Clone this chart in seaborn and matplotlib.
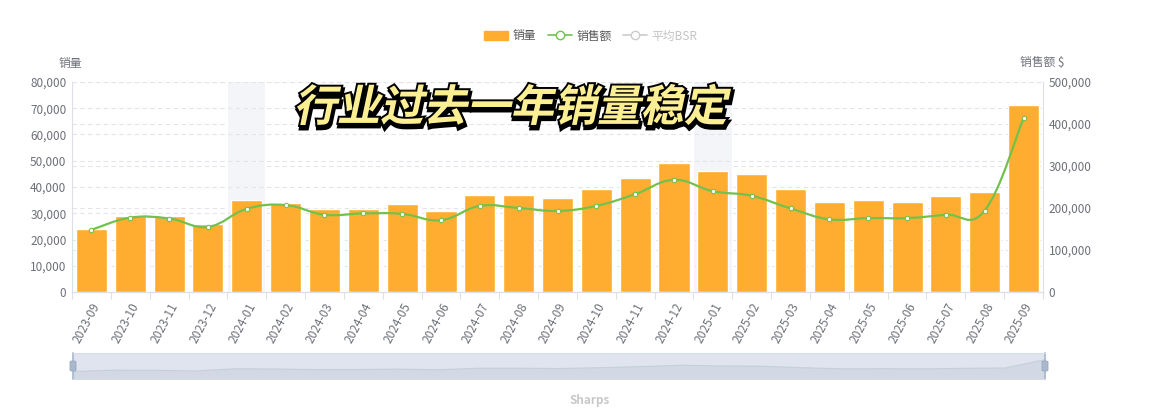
import matplotlib
matplotlib.use("Agg")
import matplotlib.pyplot as plt
import matplotlib.patches as mpatches
import matplotlib.patheffects as pe
import numpy as np
import pandas as pd
import seaborn as sns
from matplotlib.lines import Line2D
from matplotlib.path import Path
from matplotlib.textpath import TextPath
from matplotlib.font_manager import FontProperties
from matplotlib.transforms import Affine2D, IdentityTransform
from matplotlib.ticker import FuncFormatter, MultipleLocator

# data
months = ["2023-09", "2023-10", "2023-11", "2023-12", "2024-01", "2024-02", "2024-03",
          "2024-04", "2024-05", "2024-06", "2024-07", "2024-08", "2024-09", "2024-10",
          "2024-11", "2024-12", "2025-01", "2025-02", "2025-03", "2025-04", "2025-05",
          "2025-06", "2025-07", "2025-08", "2025-09"]
qty = [24000, 29100, 28800, 25800, 35000, 33800, 31500, 31700, 33400, 30900, 37000,
       37000, 35800, 39200, 43400, 49100, 46100, 45000, 39100, 34300, 35200, 34400,
       36600, 38000, 71400]
sales = [148000, 177000, 175000, 155000, 198000, 207000, 184000, 187000, 186000,
         171000, 205000, 200000, 193000, 205000, 233000, 267000, 240000, 229000,
         199000, 173000, 176000, 176000, 184000, 194000, 414000]
shaded_months = ["2024-01", "2025-01"]
title = "行业过去一年销量稳定"
legend_labels = ["销量", "销售额", "平均BSR"]

BAR = "#ffad30"
GREEN = "#72c14d"
TICK = "#6e7079"
GRID = "#e3e5ea"

sns.set_theme(style="white")
plt.rcParams["font.family"] = ["Noto Sans CJK SC", "DejaVu Sans"]

df = pd.DataFrame({"month": months, "qty": qty, "sales": sales})

fig = plt.figure(figsize=(11.76, 4.15), dpi=100)
rect = [72 / 1176, 1 - 292 / 415, (1043 - 72) / 1176, (292 - 82) / 415]
ax = fig.add_axes(rect)
ax2 = ax.twinx()
# right axis sits behind so its grid stays under the bars
ax2.set_zorder(ax.get_zorder() - 1)
ax.patch.set_visible(False)

# highlighted bands behind the bars
for m in shaded_months:
    i = months.index(m)
    ax.axvspan(i - 0.48, i + 0.48, color="#f3f5f9", zorder=0, lw=0)

sns.barplot(data=df, x="month", y="qty", color=BAR, width=0.8, saturation=1,
            ax=ax, zorder=2)
ax.set_ylim(0, 80000)
ax.set_xlim(-0.5, len(months) - 0.5)
ax.yaxis.set_major_locator(MultipleLocator(10000))
ax.yaxis.set_major_formatter(FuncFormatter(lambda v, p: f"{int(v):,}"))
ax.set_xlabel("")
ax.set_ylabel("")
ax.grid(axis="y", color=GRID, ls=(0, (4, 3)), lw=0.8, zorder=0)
ax.set_axisbelow(True)

ax2.set_ylim(0, 500000)
ax2.yaxis.set_major_locator(MultipleLocator(100000))
ax2.yaxis.set_major_formatter(FuncFormatter(lambda v, p: f"{int(v):,}"))
ax2.grid(axis="y", color=GRID, ls=(0, (4, 3)), lw=0.8)


# smooth line like the echarts "smooth" option
def smooth_path(xs, ys, s=0.2):
    n = len(xs)
    verts = [(xs[0], ys[0])]
    codes = [Path.MOVETO]
    for i in range(n - 1):
        a = i - 1 if i > 0 else i
        b = i + 2 if i + 2 < n else i + 1
        c1 = (xs[i] + (xs[i + 1] - xs[a]) * s, ys[i] + (ys[i + 1] - ys[a]) * s)
        c2 = (xs[i + 1] - (xs[b] - xs[i]) * s, ys[i + 1] - (ys[b] - ys[i]) * s)
        verts += [c1, c2, (xs[i + 1], ys[i + 1])]
        codes += [Path.CURVE4] * 3
    return Path(verts, codes)


xs = np.arange(len(months), dtype=float)
# sales line drawn on the front axes but in right-axis data units
ax.add_patch(mpatches.PathPatch(smooth_path(xs, np.array(sales, float)), fill=False,
                                edgecolor=GREEN, lw=1.6, zorder=3, transform=ax2.transData))
ax.scatter(xs, sales, s=10, facecolor="white", edgecolor=GREEN, lw=0.8, zorder=4,
           transform=ax2.transData)

for a in (ax, ax2):
    a.spines["top"].set_visible(False)
    for side in ("left", "right", "bottom"):
        a.spines[side].set_color("#dcdfe6")
        a.spines[side].set_linewidth(0.8)
    a.tick_params(axis="y", colors=TICK, labelsize=8.5, length=0, pad=4)
ax2.spines["left"].set_visible(False)
ax.spines["right"].set_visible(False)

ax.set_xticks(xs)
ax.set_xticklabels(months, rotation=62, ha="right", rotation_mode="anchor")
ax.set_xticks(np.arange(-0.5, len(months), 1), minor=True)
ax.tick_params(axis="x", which="major", length=0, labelsize=8.5, labelcolor=TICK, pad=6)
ax.tick_params(axis="x", which="minor", length=5, color="#dcdfe6", width=0.8, bottom=True)
ax2.tick_params(axis="x", which="both", bottom=False, top=False)

fig.text(70 / 1176, 1 - 63 / 415, "销量", color=TICK, fontsize=8.5, ha="center", va="center")
fig.text(1042 / 1176, 1 - 63 / 415, "销售额 $", color=TICK, fontsize=8.5, ha="center", va="center")

# legend
handles = [mpatches.Patch(color=BAR),
           Line2D([], [], color=GREEN, marker="o", mfc="white", mec=GREEN, ms=6, lw=1.2),
           Line2D([], [], color="#cccccc", marker="o", mfc="white", mec="#cccccc", ms=6, lw=1.2)]
leg = fig.legend(handles, legend_labels, loc="center", bbox_to_anchor=(591 / 1176, 1 - 36 / 415),
                 ncol=3, frameon=False, fontsize=8.5, handlelength=2.0, handleheight=0.9,
                 columnspacing=1.0, handletextpad=0.4)
for t, c in zip(leg.get_texts(), ["#555555", "#555555", "#c4c4c4"]):
    t.set_color(c)

# data zoom slider
sl = fig.add_axes([73 / 1176, 1 - 379 / 415, (1045 - 73) / 1176, 26 / 415])
sl.set_facecolor("#dfe4ee")
sl.fill_between(xs, qty, -8000, color="#d3d9e4", lw=0.8, edgecolor="#c6cedb")
sl.set_xlim(0, len(months) - 1)
sl.set_ylim(-8000, 96000)
sl.set_xticks([])
sl.set_yticks([])
for s in sl.spines.values():
    s.set_color("#d6dce8")
    s.set_linewidth(0.8)
for sd in ("left", "right"):
    sl.spines[sd].set_color("#a9b8cc")
    sl.spines[sd].set_linewidth(1.2)
for hx in (73, 1045):
    fig.add_artist(mpatches.FancyBboxPatch(((hx - 3) / 1176, 1 - 371 / 415), 6 / 1176, 10 / 415,
                                           boxstyle="round,pad=0,rounding_size=0.002",
                                           transform=fig.transFigure, facecolor="#a9b8cc",
                                           edgecolor="#97a8bf", lw=0.6))
fig.text(590 / 1176, 1 - 400 / 415, "Sharps", color="#c8c8c8", fontsize=8.5,
         fontweight="bold", ha="center", va="center")

# slanted headline with a black outline and shadow
fp = FontProperties(family="Noto Sans CJK SC", weight="bold")
tp = TextPath((0, 0), title, size=40, prop=fp)
tp = tp.transformed(Affine2D().skew_deg(12, 0))
ext = tp.get_extents()
scale = (731 - 297) / ext.width
tr = Affine2D().translate(-ext.x0, -ext.y0).scale(scale).translate(297, 415 - 125)
tp = tp.transformed(tr)
head = mpatches.PathPatch(tp, facecolor="#fcee93", edgecolor="none", lw=0,
                          transform=IdentityTransform())
head.set_path_effects([pe.Stroke(linewidth=3.5, foreground="black", offset=(0.8, -2.2)),
                       pe.Stroke(linewidth=2.8, foreground="black"), pe.Normal()])
fig.add_artist(head)

fig.savefig("out.png", dpi=100)
